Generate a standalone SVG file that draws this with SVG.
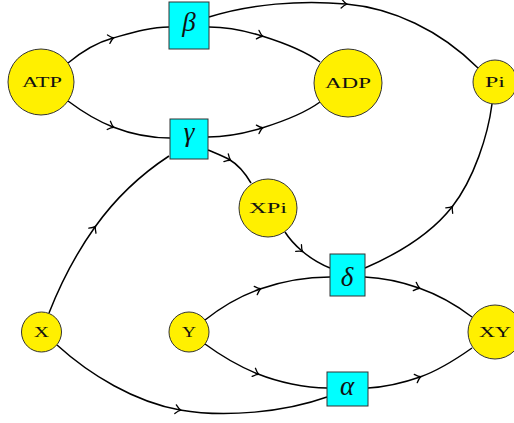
<svg xmlns="http://www.w3.org/2000/svg" width="514" height="423" viewBox="0 0 514 423">
<defs>
<marker id="ar" viewBox="-6 -5 8 10" markerWidth="8" markerHeight="10" refX="0" refY="0" orient="auto" markerUnits="userSpaceOnUse" overflow="visible">
<path d="M-4.5,-4.4 Q-1.5,-1 0.8,0 Q-1.5,1 -4.5,4.4" fill="none" stroke="#000" stroke-width="1.3" stroke-linecap="round"/>
</marker>
</defs>
<style>
.e{fill:none;stroke:#000;stroke-width:1.5;marker-mid:url(#ar)}
.s{fill:#fff000;stroke:#333;stroke-width:1}
.r{fill:#00ffff;stroke:#333;stroke-width:1}
.t{font-family:"Liberation Serif",serif;font-size:15px;fill:#111;text-anchor:middle}
.g{font-family:"Liberation Serif",serif;font-style:italic;font-size:27px;fill:#111;text-anchor:middle}
</style>
<rect width="514" height="423" fill="#fff"/>
<g id="connectors">
<path class="e" d="M68,63 C80,53 95,43 113,38 S150,27 169,27"/>
<path class="e" d="M209,27 C228,27 246,31 262,36 S305,51 320,62"/>
<path class="e" d="M68,101 C80,110 95,120 113,127 S150,138 170,138"/>
<path class="e" d="M208,137 C228,137 246,133 262,128 S305,113 320,102"/>
<path class="e" d="M209,17 C250,4 300,0 346,4 S440,30 478,68"/>
<path class="e" d="M49,313 C60,285 75,255 95,227 S140,175 169,156"/>
<path class="e" d="M208,150 C215,153 223,156 230,160 S245,173 251,183"/>
<path class="e" d="M285,232 C290,240 295,245 302,251 S320,264 330,268"/>
<path class="e" d="M365,268 C395,255 430,235 452,207 S488,135 492,104"/>
<path class="e" d="M205,320 C220,308 240,296 260,289 S305,277 330,277"/>
<path class="e" d="M365,277 C385,278 402,282 419,288 S455,304 472,317"/>
<path class="e" d="M205,344 C220,355 238,366 258,374 S305,388 327,388"/>
<path class="e" d="M368,388 C385,387 403,383 420,377 S455,360 472,348"/>
<path class="e" d="M57,345 C90,375 135,402 180,410 S285,412 327,397"/>
</g>
<g id="ATP"><circle class="s" cx="41" cy="82" r="33"/><text class="t" x="42" y="87" textLength="40" lengthAdjust="spacingAndGlyphs">ATP</text></g>
<g id="ADP"><circle class="s" cx="348" cy="83" r="34"/><text class="t" x="348" y="88" textLength="46" lengthAdjust="spacingAndGlyphs">ADP</text></g>
<g id="Pi"><circle class="s" cx="495" cy="82" r="22"/><text class="t" x="495" y="87" textLength="20" lengthAdjust="spacingAndGlyphs">Pi</text></g>
<g id="XPi"><circle class="s" cx="268" cy="208" r="29"/><text class="t" x="268" y="213" textLength="38" lengthAdjust="spacingAndGlyphs">XPi</text></g>
<g id="X"><circle class="s" cx="41.5" cy="332" r="20"/><text class="t" x="41.5" y="337" textLength="15" lengthAdjust="spacingAndGlyphs">X</text></g>
<g id="Y"><circle class="s" cx="189" cy="332" r="20"/><text class="t" x="189" y="337" textLength="14" lengthAdjust="spacingAndGlyphs">Y</text></g>
<g id="XY"><circle class="s" cx="495" cy="332" r="27"/><text class="t" x="495" y="337" textLength="32" lengthAdjust="spacingAndGlyphs">XY</text></g>
<g id="beta"><rect class="r" x="169" y="2" width="40" height="47"/><text class="g" x="189" y="31">β</text></g>
<g id="gamma"><rect class="r" x="170" y="119" width="38" height="40"/><text class="g" x="189" y="141">γ</text></g>
<g id="delta"><rect class="r" x="330" y="254" width="35" height="42"/><text class="g" x="347" y="286">δ</text></g>
<g id="alpha"><rect class="r" x="327" y="372" width="41" height="34"/><text class="g" x="347" y="395">α</text></g>
</svg>
